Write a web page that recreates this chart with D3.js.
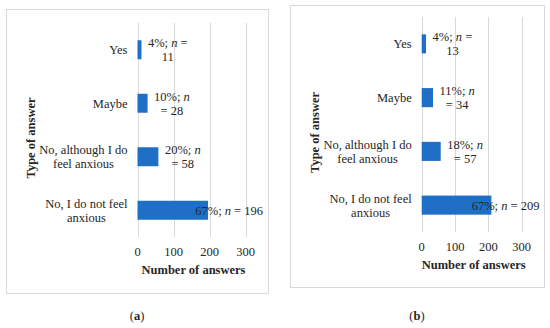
<!DOCTYPE html>
<html>
<head>
<meta charset="utf-8">
<script src="https://cdn.jsdelivr.net/npm/d3@7"></script>
<style>
  body { margin:0; background:#fff; }
</style>
</head>
<body>
<div id="chart"></div>
<script>
// data
const categories = [["Yes"], ["Maybe"], ["No, although I do", "feel anxious"], ["No, I do not feel", "anxious"]];
const valuesA = [11, 28, 58, 196];
const valuesB = [13, 34, 57, 209];
const pctA = [4, 10, 20, 67];
const pctB = [4, 11, 18, 67];
const xTicks = [0, 100, 200, 300];
const panelNames = ["a", "b"];

const W = 550, H = 328;
const svg = d3.select("#chart").append("svg").attr("width", W).attr("height", H)
  .attr("font-family", "'Times New Roman', 'Liberation Serif', 'DejaVu Serif', serif")
  .attr("fill", "#262626");
const fs = 12.5;
const barColor = "#1f6fc6";
const grid = "#d9d9d9";

function labelLines(p, n, i) {
  // mimic excel's wrapped labels
  if (i == 0) return [[p + "%; ", "n", " ="], ["", "", n]];
  if (i == 3) return [[p + "%; ", "n", " = " + n]];
  return [[p + "%; ", "n", ""], ["= " + n, "", ""]];
}

function panel(box, plot, vals, pcts, name) {
  svg.append("rect").attr("x", box[0] + 0.5).attr("y", box[1] + 0.5)
    .attr("width", box[2] - box[0]).attr("height", box[3] - box[1])
    .attr("fill", "none").attr("stroke", grid);

  var x = d3.scaleLinear().domain([0, 300]).range([plot[0], plot[1]]);
  var y = d3.scaleBand().domain(d3.range(categories.length)).range([plot[2], plot[3]]).padding(0);
  var bh = y.bandwidth() * 0.355;

  var g = svg.append("g").attr("font-size", fs);
  g.selectAll(".grid").data(xTicks).enter().append("line")
    .attr("x1", d => Math.round(x(d)) + 0.5).attr("x2", d => Math.round(x(d)) + 0.5)
    .attr("y1", plot[2]).attr("y2", plot[3])
    .attr("stroke", grid).attr("stroke-width", 1);

  g.selectAll(".tick").data(xTicks).enter().append("text")
    .attr("x", d => x(d)).attr("y", plot[3] + 19)
    .attr("text-anchor", "middle").text(d => d);

  g.selectAll(".bar").data(vals).enter().append("rect")
    .attr("x", x(0)).attr("y", (d, i) => y(i) + y.bandwidth() / 2 - bh / 2)
    .attr("width", d => x(d) - x(0)).attr("height", bh)
    .attr("fill", barColor);

  // category labels
  categories.forEach(function(lines, i) {
    var cy = y(i) + y.bandwidth() / 2;
    var t = g.append("text").attr("text-anchor", "middle");
    var right = plot[0] - 10;
    var tmp = [];
    lines.forEach(function(l, k) {
      tmp.push(t.append("tspan").attr("y", cy + 4.5 + (k - (lines.length - 1) / 2) * 14).text(l));
    });
    var mw = d3.max(tmp, s => s.node().getComputedTextLength());
    tmp.forEach(s => s.attr("x", right - mw / 2));
  });

  // value labels
  vals.forEach(function(v, i) {
    var cy = y(i) + y.bandwidth() / 2;
    var lines = labelLines(pcts[i], v, i);
    var t = g.append("text").attr("text-anchor", "middle");
    var spans = [];
    lines.forEach(function(parts, k) {
      var ln = t.append("tspan").attr("x", 0).attr("y", cy + 4.5 + (k - (lines.length - 1) / 2) * 14);
      ln.append("tspan").text(parts[0]);
      if (parts[1]) ln.append("tspan").attr("font-style", "italic").text(parts[1]);
      if (parts[2]) ln.append("tspan").text(parts[2]);
      spans.push(ln);
    });
    var w = d3.max(spans, s => s.node().getComputedTextLength());
    var cx;
    if (lines.length == 1) cx = Math.min(x(v) + 55, box[2] - 4.5) - w / 2;
    else cx = x(v) + 6.5 + w / 2;
    spans.forEach(s => s.attr("x", cx));
  });

  g.append("text").attr("x", (plot[0] + plot[1]) / 2 + 2).attr("y", plot[3] + 37)
    .attr("text-anchor", "middle").attr("font-weight", "bold")
    .text("Number of answers");

  g.append("text").attr("transform", "translate(" + (box[0] + 29) + "," + ((plot[2] + plot[3]) / 2 + 8) + ") rotate(-90)")
    .attr("text-anchor", "middle").attr("font-weight", "bold")
    .text("Type of answer");

  var lab = g.append("text").attr("x", (box[0] + box[2]) / 2).attr("y", 320)
    .attr("text-anchor", "middle");
  lab.append("tspan").text("(");
  lab.append("tspan").attr("font-weight", "bold").text(name);
  lab.append("tspan").text(")");
}

panel([6, 9, 268, 293], [137.5, 245.5, 23, 237], valuesA, pctA, panelNames[0]);
panel([290, 5, 544, 287], [421.7, 521.7, 17, 232], valuesB, pctB, panelNames[1]);
</script>
</body>
</html>
